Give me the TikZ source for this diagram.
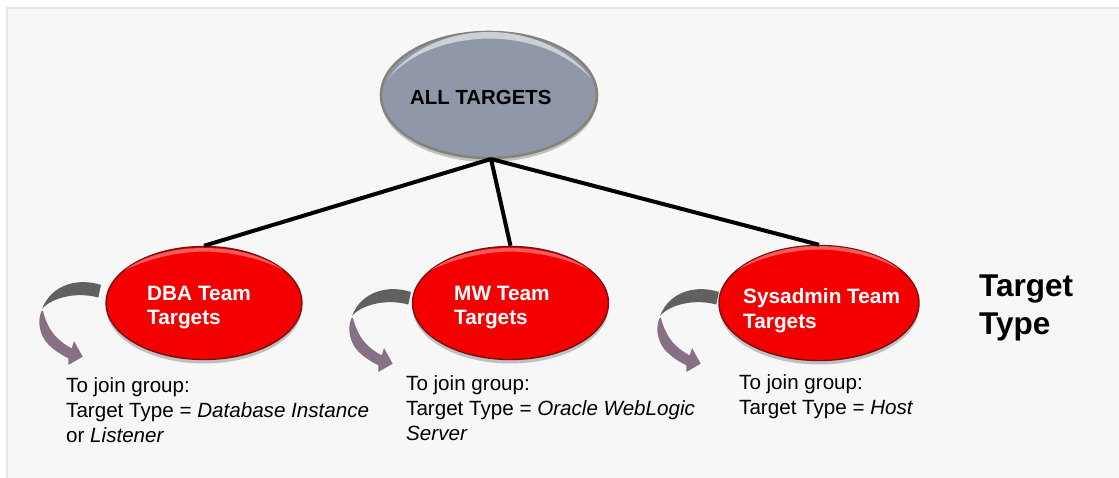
\documentclass[tikz,border=0pt]{standalone}
\usepackage{fontspec}
\setmainfont{Liberation Sans}
\usetikzlibrary{shapes.geometric,shadows}
\definecolor{bgc}{HTML}{F7F7F7}
\definecolor{edgec}{HTML}{E6E6E6}
\definecolor{slate}{HTML}{9097A9}
\definecolor{slatee}{HTML}{85847C}
\definecolor{slatehi}{HTML}{CDD0D6}
\definecolor{redf}{HTML}{F40000}
\definecolor{rede}{HTML}{7A1010}
\definecolor{redhi}{HTML}{F65A5A}
\definecolor{mauve}{HTML}{876F84}
\definecolor{greyband}{HTML}{606060}
\tikzset{
  x=1pt,y=-1pt,
  softshadow/.style={drop shadow={shadow xshift=0pt,shadow yshift=-4pt,opacity=.22,fill=black}},
  teamell/.style={ellipse,draw=rede,line width=1.4pt,fill=redf,minimum width=196pt,minimum height=113pt,inner sep=0pt,softshadow},
  rootell/.style={ellipse,draw=slatee,line width=2.6pt,fill=slate,minimum width=216pt,minimum height=126pt,inner sep=0pt,softshadow},
  teamtxt/.style={anchor=west,align=left,inner sep=0pt,text=white,font=\bfseries\fontsize{20.8}{24.5}\selectfont},
  notetxt/.style={anchor=north west,align=left,inner sep=0pt,text=black,font=\fontsize{20.6}{25}\selectfont},
  link/.style={line width=4pt,black},
}
\newcommand{\turnarrow}[2]{%
  \begin{scope}[shift={(#1,#2)}]
    \fill[greyband]
      (101,285) .. controls (80,278) and (52,283) .. (42,309)
      .. controls (50,299) and (74,291) .. (98.3,297.5) -- cycle;
    \fill[mauve]
      (41.5,311) .. controls (37,322) and (40,334) .. (46.2,342)
      .. controls (52,349) and (60,354) .. (68.3,358.3) -- (68.3,365) -- (82.7,356.7) -- (74,341) -- (71.7,348.3)
      .. controls (61,343) and (52,334) .. (48,325)
      .. controls (45.5,320) and (44,315) .. (43,311) -- cycle;
  \end{scope}}
\begin{document}
\begin{tikzpicture}
\useasboundingbox (0,0) rectangle (1119,478);
\fill[white] (0,0) rectangle (1119,478);
\fill[edgec] (6,7) rectangle (1119,478);
\fill[bgc] (8,9) rectangle (1119,478);
\node[rootell] (root) at (489,95) {};
\fill[slatehi] (387,80) .. controls (410,48) and (450,32) .. (489,32) .. controls (530,32) and (570,50) .. (591,78) .. controls (565,52) and (530,39) .. (489,38.5) .. controls (450,39) and (410,52) .. cycle;
\node[anchor=west,inner sep=0pt,font=\bfseries\fontsize{20.4}{24}\selectfont] (roottext) at (410,97) {ALL TARGETS};
\coordinate (hub) at (491,159);
\node[teamell] (dba) at (204,303) {};
\node[teamell] (mw) at (510.5,303) {};
\node[teamell,minimum width=200pt,minimum height=115pt] (sys) at (819,303) {};
\fill[redhi] (125,270) .. controls (145,255) and (175,248) .. (204,248) .. controls (235,248) and (265,256) .. (283,270) .. controls (265,260) and (235,252) .. (204,251.5) .. controls (175,252) and (145,260) .. cycle;
\fill[redhi] (431.5,270) .. controls (451,255) and (481,248) .. (510.5,248) .. controls (541,248) and (571,256) .. (589.5,270) .. controls (571,260) and (541,252) .. (510.5,251.5) .. controls (481,252) and (451,260) .. cycle;
\fill[redhi] (738,270) .. controls (758,254) and (789,246) .. (819,246) .. controls (850,246) and (881,254) .. (900,270) .. controls (881,258) and (850,250) .. (819,249.5) .. controls (789,250) and (758,258) .. cycle;
\draw[link] (hub) -- (dba.north);
\draw[link] (hub) -- (mw.north);
\draw[link] (hub) -- (sys.north);
\node[teamtxt] (dbat) at (147,307.5) {DBA Team\\Targets};
\node[teamtxt] (mwt) at (454,307.5) {MW Team\\Targets};
\node[teamtxt] (syst) at (743,310.5) {Sysadmin Team\\Targets};
\turnarrow{0}{0}
\turnarrow{310}{7}
\turnarrow{618}{7}
\node[notetxt] (n1) at (66,377) {To join group:\\Target Type = \textit{Database Instance}\\or \textit{Listener}};
\node[notetxt] (n2) at (406,375) {To join group:\\Target Type = \textit{Oracle WebLogic}\\\textit{Server}};
\node[notetxt] (n3) at (739,374) {To join group:\\Target Type = \textit{Host}};
\node[anchor=west,align=left,inner sep=0pt,font=\bfseries\fontsize{31.5}{38}\selectfont,text=black] (tt) at (979,308) {Target\\Type};
\end{tikzpicture}
\end{document}
